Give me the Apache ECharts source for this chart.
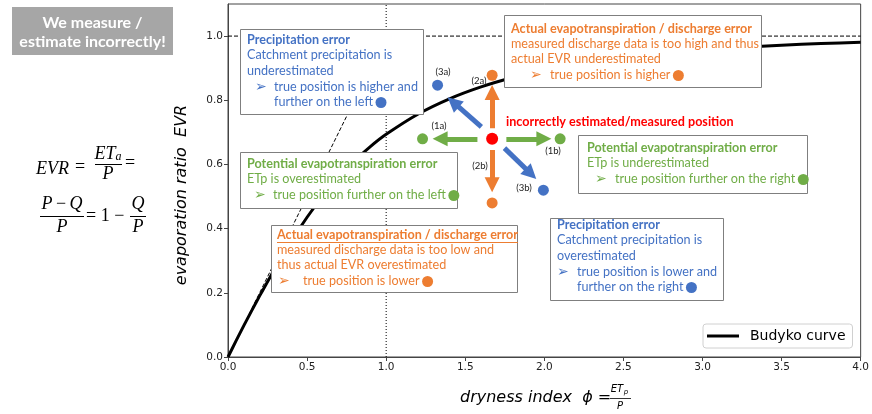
<!DOCTYPE html>
<html><head><meta charset="utf-8">
<script src="https://cdn.jsdelivr.net/npm/echarts@6/dist/echarts.min.js"></script>
<style>html,body{margin:0;padding:0;background:#fff}#c{width:872px;height:414px}</style>
</head><body><div id="c"></div>
<script>
// ---- data ----
const phiVals = [0,0.05,0.1,0.15,0.2,0.3,0.4,0.5,0.6,0.7,0.8,0.9,1.0,1.2,1.4,1.6,1.8,2.0,2.25,2.5,2.75,3.0,3.25,3.5,3.75,4.0];
const evrVals = [0,0.0494,0.0976,0.1446,0.1904,0.2785,0.3607,0.4355,0.5021,0.5605,0.6113,0.6555,0.6938,0.7564,0.8044,0.8416,0.8709,0.8940,0.9165,0.9337,0.9470,0.9573,0.9653,0.9718,0.9767,0.9807];
const energyLimit = [[0,0],[1,1]];
const waterLimit = [[0,1],[4,1]];
const aridityLine = [[1,0],[1,1.1]];
const centerPoint = [[1.67,0.68]];
const greenPoints = [[1.23,0.68],[2.10,0.68]];
const orangePoints = [[1.67,0.878],[1.67,0.48]];
const bluePoints = [[1.325,0.847],[1.994,0.52]];
const greenArrows = [[[1.577,0.68],[1.341,0.68]],[[1.760,0.68],[1.997,0.68]]];
const orangeArrows = [[[1.67,0.713],[1.67,0.824]],[[1.67,0.645],[1.67,0.537]]];
const blueArrows = [[[1.602,0.717],[1.424,0.794]],[[1.748,0.651],[1.915,0.571]]];
const xTicks = [0,0.5,1.0,1.5,2.0,2.5,3.0,3.5,4.0];
const yTicks = [0,0.2,0.4,0.6,0.8,1.0];
const pointLabels = ['(1a)','(1b)','(2a)','(2b)','(3a)','(3b)'];
const centerLabel = 'incorrectly estimated/measured position';
const headerText = ['We measure /','estimate incorrectly!'];
const precipUnderText = ['Precipitation error','Catchment precipitation is','underestimated','true position is higher and','further on the left'];
const aetUnderText = ['Actual evapotranspiration / discharge error','measured discharge data is too high and thus','actual EVR underestimated','true position is higher'];
const petOverText = ['Potential evapotranspiration error','ETp is overestimated','true position further on the left'];
const petUnderText = ['Potential evapotranspiration error','ETp is underestimated','true position further on the right'];
const aetOverText = ['Actual evapotranspiration / discharge error','measured discharge data is too low and','thus actual EVR overestimated','true position is lower'];
const precipOverText = ['Precipitation error','Catchment precipitation is','overestimated','true position is lower and','further on the right'];
const legendName = 'Budyko curve';

// ---- styles ----
const BLUE='#4472C4', ORANGE='#ED7D31', GREEN='#70AD47', RED='#FF0000';
const FS = 12.6, FF = 'Lato';
const mctx = document.createElement('canvas').getContext('2d');
function tw(t, font){ mctx.font = font; return mctx.measureText(t).width; }

const els = [];
function txt(t, x, y, font, fill, align){
  els.push({type:'text', z:100, x:x, y:y, style:{text:t, font:font, fill:fill, align:align||'left', verticalAlign:'middle', textAlign:align||'left', textVerticalAlign:'middle'}});
}
function box(texts, lay, color){
  els.push({type:'rect', z:99, shape:{x:lay.r[0]+0.5,y:lay.r[1]+0.5,width:lay.r[2],height:lay.r[3]}, style:{fill:'#fff', stroke:'#7f7f7f', lineWidth:1}});
  texts.forEach((t,i)=>{
    const bold = i===0;
    const font = (bold?'bold ':'')+FS+'px '+FF;
    let x = lay.tx;
    if (i>=lay.bulletAt) x = lay.ix;
    if (i===lay.bulletAt) txt('\u27A2', lay.bx, lay.ys[i], '14px "DejaVu Sans"', color);
    txt(t, x, lay.ys[i], font, color);
    if (bold && lay.underline){
      const w = tw(t, font);
      els.push({type:'line', z:100, shape:{x1:x,y1:lay.ys[i]+7.5,x2:x+w,y2:lay.ys[i]+7.5}, style:{stroke:color, lineWidth:1}});
    }
    if (i===lay.dotAt){
      const w = tw(t, font);
      els.push({type:'circle', z:100, shape:{cx:x+w+8, cy:lay.ys[i]+0.5, r:5.5}, style:{fill:color}});
    }
  });
}
box(precipUnderText, {r:[240,29,183,85], tx:247, bx:255, ix:274, ys:[40,55,71,87,102], bulletAt:3, dotAt:4}, BLUE);
box(aetUnderText, {r:[504,15,257,72], tx:511, bx:530, ix:550, ys:[29,44,59,75], bulletAt:3, dotAt:3}, ORANGE);
box(petOverText, {r:[240,152,217,56], tx:247, bx:254, ix:273, ys:[164,179,195], bulletAt:2, dotAt:2}, GREEN);
box(petUnderText, {r:[578,135,229,58], tx:587, bx:595, ix:615, ys:[148,163,179], bulletAt:2, dotAt:2}, GREEN);
box(aetOverText, {r:[271,225,246,67], tx:277, bx:278, ix:303, ys:[235,250,265,281], bulletAt:3, dotAt:3, underline:true}, ORANGE);
box(precipOverText, {r:[550,218,173,82], tx:557, bx:557, ix:577, ys:[225,240,256,272,287], bulletAt:3, dotAt:4}, BLUE);

// header grey box
els.push({type:'rect', z:99, shape:{x:12,y:7,width:161,height:48}, style:{fill:'#a6a6a6'}});
txt(headerText[0], 92.5, 23, 'bold 16px '+FF, '#fff', 'center');
txt(headerText[1], 92.5, 42, 'bold 16px '+FF, '#fff', 'center');

// point labels
const plPos = [[439,126],[553,151],[479,81],[480,166],[443,72],[524,188]];
pointLabels.forEach((t,i)=>txt(t, plPos[i][0], plPos[i][1], '9.5px '+FF, '#222', 'center'));
txt(centerLabel, 506, 122, 'bold '+FS+'px '+FF, RED);

// formula
const SF = 'italic 18px "Liberation Serif"', SU = '18px "Liberation Serif"';
txt('EVR', 36, 169, SF, '#000');
txt('=', 75, 167, SU, '#000');
els.push({type:'text', z:100, x:108, y:154, style:{text:'{m|ET}{s|a}', align:'center', verticalAlign:'middle', textAlign:'center', textVerticalAlign:'middle', rich:{m:{font:SF, fill:'#000'}, s:{font:'italic 12px "Liberation Serif"', fill:'#000', padding:[6,0,0,0]}}}});
els.push({type:'line', z:100, shape:{x1:95,y1:164.5,x2:122,y2:164.5}, style:{stroke:'#000', lineWidth:1}});
txt('P', 108, 174, SF, '#000', 'center');
txt('=', 130, 163, SU, '#000', 'center');
els.push({type:'text', z:100, x:62, y:204, style:{text:'{i|P} {u|\u2212} {i|Q}', align:'center', verticalAlign:'middle', textAlign:'center', textVerticalAlign:'middle', rich:{i:{font:SF, fill:'#000'}, u:{font:SU, fill:'#000'}}}});
els.push({type:'line', z:100, shape:{x1:40,y1:216.5,x2:84,y2:216.5}, style:{stroke:'#000', lineWidth:1}});
txt('P', 62, 227, SF, '#000', 'center');
txt('= 1 \u2212', 86, 216, SU, '#000');
txt('Q', 138, 204, SF, '#000', 'center');
els.push({type:'line', z:100, shape:{x1:130,y1:216.5,x2:146,y2:216.5}, style:{stroke:'#000', lineWidth:1}});
txt('P', 138, 227, SF, '#000', 'center');

// axis titles
els.push({type:'text', z:100, x:182, y:195, rotation:Math.PI/2, style:{text:'evaporation ratio  EVR', font:'italic 16px "DejaVu Sans"', fill:'#000', align:'center', verticalAlign:'middle', textAlign:'center', textVerticalAlign:'middle'}});
txt('dryness index  \u03D5 =', 460, 398, 'italic 16px "DejaVu Sans"', '#000');
txt('ET', 617, 389, 'italic 10px "DejaVu Sans"', '#000', 'center');
txt('p', 626, 392, 'italic 7px "DejaVu Sans"', '#000', 'center');
els.push({type:'line', z:100, shape:{x1:610,y1:398.5,x2:631,y2:398.5}, style:{stroke:'#000', lineWidth:0.8}});
txt('P', 620, 406, 'italic 10px "DejaVu Sans"', '#000', 'center');

function arrowSeries(data, color){
  return {type:'lines', coordinateSystem:'cartesian2d', z:5, silent:true,
    data:data.map(c=>({coords:c})), symbol:['none','triangle'], symbolSize:15,
    lineStyle:{color:color, width:5, opacity:1}, itemStyle:{color:color}};
}
function scat(data, color, size){
  return {type:'scatter', z:6, data:data, symbolSize:size||11, itemStyle:{color:color, opacity:1}, silent:true};
}

const chart = echarts.init(document.getElementById('c'));
chart.setOption({
  animation:false,
  grid:{left:228, right:10, top:4, bottom:57, show:true, borderColor:'#444', borderWidth:1, backgroundColor:'transparent'},
  xAxis:{type:'value', min:xTicks[0], max:xTicks[xTicks.length-1], interval:0.5,
    axisLine:{show:true, onZero:false, lineStyle:{color:'#444'}}, axisTick:{show:true, length:4, lineStyle:{color:'#444'}},
    axisLabel:{formatter:v=>v.toFixed(1), fontSize:10.5, fontFamily:'DejaVu Sans', color:'#222', margin:5}, splitLine:{show:false}},
  yAxis:{type:'value', min:yTicks[0], max:1.1, interval:0.2,
    axisLine:{show:true, onZero:false, lineStyle:{color:'#444'}}, axisTick:{show:true, length:4, lineStyle:{color:'#444'}},
    axisLabel:{formatter:v=>(v>1.05?'':v.toFixed(1)), showMaxLabel:false, fontSize:10.5, fontFamily:'DejaVu Sans', color:'#222', margin:5}, splitLine:{show:false}},
  legend:{data:[{name:legendName, icon:'rect'}], left:703, top:324, padding:[5,7,5,4], itemWidth:32, itemHeight:3,
    textStyle:{fontSize:14, fontFamily:'DejaVu Sans', color:'#000', padding:[0,0,0,6]},
    borderColor:'#d0d0d0', borderWidth:1, borderRadius:3, backgroundColor:'#fff', selectedMode:false},
  series:[
    {type:'line', data:energyLimit, showSymbol:false, symbol:'none', lineStyle:{color:'#000', width:1, type:[4,2]}, z:1, silent:true},
    {type:'line', data:waterLimit, showSymbol:false, symbol:'none', lineStyle:{color:'#000', width:1, type:[4,2]}, z:1, silent:true},
    {type:'line', data:aridityLine, showSymbol:false, symbol:'none', lineStyle:{color:'#000', width:1, type:[1,2]}, z:1, silent:true},
    {name:legendName, type:'line', data:phiVals.map((p,i)=>[p,evrVals[i]]), showSymbol:false, symbol:'none', smooth:0.2,
      lineStyle:{color:'#000', width:3}, itemStyle:{color:'#000'}, z:2, silent:true},
    arrowSeries(greenArrows, GREEN), arrowSeries(orangeArrows, ORANGE), arrowSeries(blueArrows, BLUE),
    scat(greenPoints, GREEN), scat(orangePoints, ORANGE), scat(bluePoints, BLUE), scat(centerPoint, RED, 12)
  ],
  graphic:{elements:els}
});
</script></body></html>
